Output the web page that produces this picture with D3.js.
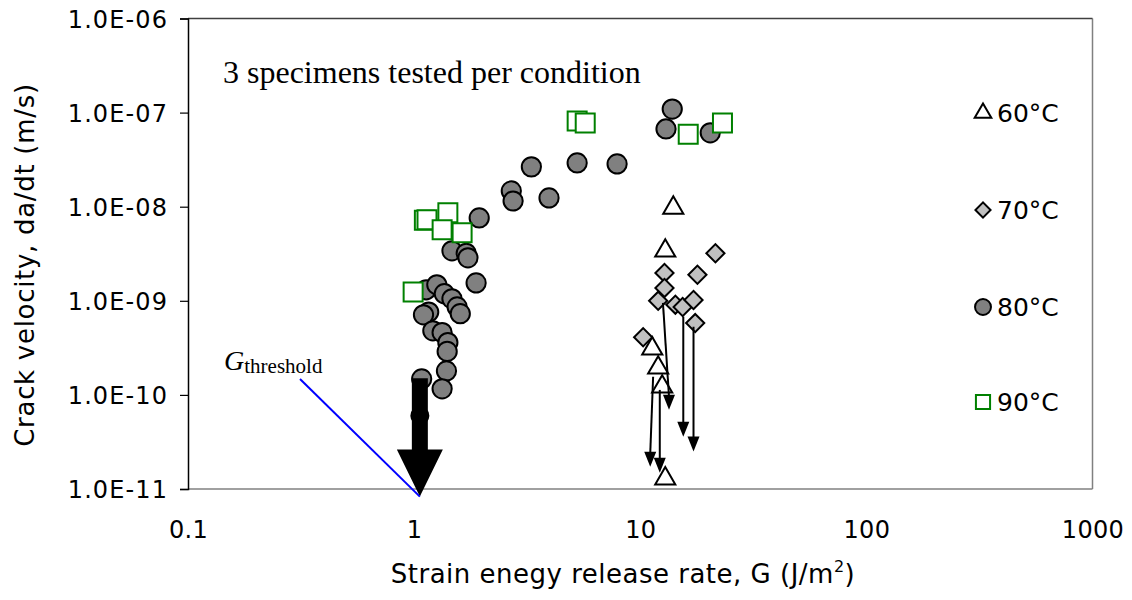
<!DOCTYPE html>
<html>
<head>
<meta charset="utf-8">
<script src="https://cdn.jsdelivr.net/npm/d3@7"></script>
<style>
  body { margin: 0; background: #fff; }
  svg text { font-family: "DejaVu Sans", Verdana, sans-serif; }
  .serif { font-family: "Liberation Serif", "Times New Roman", serif !important; }
</style>
</head>
<body>
<svg id="chart" width="1132" height="600"></svg>
<script>
// ===== data (G in J/m^2, velocity in m/s) =====
const xTicks = [0.1, 1, 10, 100, 1000];
const xTickLabels = ["0.1", "1", "10", "100", "1000"];
const yTicks = [1e-11, 1e-10, 1e-9, 1e-8, 1e-7, 1e-6];
const yTickLabels = ["1.0E-11", "1.0E-10", "1.0E-09", "1.0E-08", "1.0E-07", "1.0E-06"];

// 60°C
const g60 = [14.0, 12.9, 11.3, 12.0, 12.5, 12.9];
const v60 = [9.7e-9, 3.4e-9, 3.1e-10, 1.94e-10, 1.22e-10, 1.29e-11];
// 70°C
const g70 = [21.5, 12.8, 17.9, 12.8, 12.0, 14.3, 15.4, 17.2, 17.5, 10.3];
const v70 = [3.2e-9, 1.98e-9, 1.89e-9, 1.37e-9, 1.0e-9, 9.1e-10, 8.6e-10, 1.02e-9, 5.8e-10, 4.1e-10];
// 80°C
const g80 = [13.85, 13.0, 20.4, 3.30, 5.26, 7.9, 2.69, 2.74, 3.95, 1.94, 1.47, 1.70, 1.73, 1.88, 1.13,
  1.26, 1.36, 1.47, 1.55, 1.60, 1.16, 1.10, 1.21, 1.33, 1.41, 1.40, 1.39, 1.08, 1.33];
const v80 = [1.09e-7, 6.7e-8, 6.1e-8, 2.65e-8, 2.92e-8, 2.85e-8, 1.47e-8, 1.15e-8, 1.24e-8, 7.6e-9, 3.4e-9,
  3.2e-9, 2.86e-9, 1.55e-9, 1.31e-9, 1.48e-9, 1.19e-9, 1.05e-9, 8.6e-10, 7.3e-10, 7.6e-10, 7.1e-10,
  4.8e-10, 4.6e-10, 3.6e-10, 2.9e-10, 1.8e-10, 1.48e-10, 1.16e-10];
// 90°C
const g90 = [5.26, 5.71, 16.3, 23.1, 1.11, 1.14, 1.41, 1.33, 1.63, 0.99];
const v90 = [8.15e-8, 7.76e-8, 5.9e-8, 7.76e-8, 7.2e-9, 7.25e-9, 8.6e-9, 5.7e-9, 5.3e-9, 1.24e-9];

// run-out arrows: [G start, v start, G end, v end]
const runouts = [
  [12.6, 9.5e-10, 13.4, 6.95e-11],
  [15.5, 6.8e-10, 15.5, 3.6e-11],
  [17.2, 5.3e-10, 17.2, 2.5e-11],
  [11.4, 1.56e-10, 11.07, 1.72e-11],
  [12.2, 1.13e-10, 12.2, 1.49e-11],
];

// threshold arrow
const thresholdG = 1.06;
const thresholdTop = 1.5e-10;
const thresholdTip = 8.3e-12;
const thresholdDotV = 6.0e-11;

const legendNames = ["60°C", "70°C", "80°C", "90°C"];

// ===== layout =====
const svg = d3.select("#chart");
const plotL = 188, plotR = 1092.5, plotT = 18.5, plotB = 489;

const xScale = d3.scaleLog().domain([0.1, 1000]).range([plotL, plotR]);
const yScale = d3.scaleLog().domain([1e-11, 1e-6]).range([plotB, plotT]);

// plot frame
svg.append("line").attr("x1", plotL).attr("x2", plotR).attr("y1", plotB).attr("y2", plotB)
  .attr("stroke", "#808080").attr("stroke-width", 1.5);
svg.append("line").attr("x1", plotR).attr("x2", plotR).attr("y1", plotT).attr("y2", plotB)
  .attr("stroke", "#808080").attr("stroke-width", 1.5);
svg.append("line").attr("x1", plotL).attr("x2", plotR).attr("y1", plotT).attr("y2", plotT)
  .attr("stroke", "#404040").attr("stroke-width", 1.5);

// y axis
const yAxis = d3.axisLeft(yScale)
  .tickValues(yTicks)
  .tickSize(8)
  .tickPadding(12)
  .tickFormat((d, i) => yTickLabels[i]);
const yAxisG = svg.append("g").attr("transform", `translate(${plotL},0)`).call(yAxis);
yAxisG.select(".domain").attr("stroke", "#000").attr("stroke-width", 1.5);
yAxisG.selectAll(".tick line").attr("stroke", "#000").attr("stroke-width", 1.2);
yAxisG.selectAll("text")
  .attr("fill", "#000")
  .style("font-size", "24px")
  .style("letter-spacing", "1.1px")
  .attr("dy", "0.36em");

// x axis (labels only)
const xAxis = d3.axisBottom(xScale)
  .tickValues(xTicks)
  .tickSize(0)
  .tickFormat((d, i) => xTickLabels[i]);
const xAxisG = svg.append("g").attr("transform", `translate(0,${plotB})`).call(xAxis);
xAxisG.select(".domain").remove();
xAxisG.selectAll("text")
  .attr("fill", "#000")
  .attr("y", 49)
  .attr("dy", 0)
  .style("font-size", "24px")
  .style("letter-spacing", "0.3px");

// axis titles
svg.append("text")
  .attr("x", 623).attr("y", 583)
  .attr("text-anchor", "middle")
  .style("font-size", "26px")
  .style("letter-spacing", "0.5px")
  .html('Strain enegy release rate, G (J/m<tspan dy="-11" style="font-size:16px">2</tspan><tspan dy="11">)</tspan>');

svg.append("text")
  .attr("transform", "translate(34,265) rotate(-90)")
  .attr("text-anchor", "middle")
  .style("font-size", "26px")
  .style("letter-spacing", "0.7px")
  .text("Crack velocity, da/dt (m/s)");

// ===== markers =====
const sym = (type, size) => d3.symbol().type(type).size(size)();
const styles = [
  { path: sym(d3.symbolTriangle, 175), legend: sym(d3.symbolTriangle, 120), fill: "#fff", stroke: "#000", rot: 0 },
  { path: sym(d3.symbolSquare, 165), legend: sym(d3.symbolSquare, 115), fill: "#c0c0c0", stroke: "#000", rot: 45 },
  { path: sym(d3.symbolCircle, 290), legend: sym(d3.symbolCircle, 200), fill: "#808080", stroke: "#000", rot: 0 },
  { path: sym(d3.symbolSquare, 361), legend: sym(d3.symbolSquare, 200), fill: "#fff", stroke: "#008000", rot: 0 },
];
const series = [
  g60.map((g, i) => ({ g, v: v60[i] })),
  g70.map((g, i) => ({ g, v: v70[i] })),
  g80.map((g, i) => ({ g, v: v80[i] })),
  g90.map((g, i) => ({ g, v: v90[i] })),
];

series.forEach((pts, s) => {
  svg.append("g")
    .selectAll("path")
    .data(pts)
    .enter()
    .append("path")
    .attr("d", styles[s].path)
    .attr("transform", (d) => `translate(${xScale(d.g)},${yScale(d.v)}) rotate(${styles[s].rot})`)
    .attr("fill", styles[s].fill)
    .attr("stroke", styles[s].stroke)
    .attr("stroke-width", 2);
});

// run-out arrows
const headLen = 15, headW = 6;
const ro = svg.append("g");
runouts.forEach((r) => {
  const x1 = xScale(r[0]), y1 = yScale(r[1]), x2 = xScale(r[2]), y2 = yScale(r[3]);
  ro.append("line").attr("x1", x1).attr("y1", y1).attr("x2", x2).attr("y2", y2 - headLen + 2)
    .attr("stroke", "#000").attr("stroke-width", 2);
  ro.append("path")
    .attr("d", `M${x2},${y2} L${x2 - headW},${y2 - headLen} L${x2 + headW},${y2 - headLen} Z`)
    .attr("fill", "#000");
});

// threshold arrow
const tx = xScale(thresholdG), tTop = yScale(thresholdTop), tTip = yScale(thresholdTip);
svg.append("path")
  .attr("d", `M${tx - 8},${tTop} L${tx + 8},${tTop} L${tx + 8},${tTip - 47} L${tx + 23},${tTip - 47}
    L${tx},${tTip} L${tx - 23},${tTip - 47} L${tx - 8},${tTip - 47} Z`)
  .attr("fill", "#000");
svg.append("circle").attr("cx", tx).attr("cy", yScale(thresholdDotV)).attr("r", 9.5).attr("fill", "#000");

// G threshold label + pointer line
svg.append("line")
  .attr("x1", 300).attr("y1", 379).attr("x2", tx).attr("y2", tTip)
  .attr("stroke", "#0000ff").attr("stroke-width", 2);
svg.append("text")
  .attr("class", "serif")
  .attr("x", 224).attr("y", 370)
  .style("font-size", "28px")
  .html('<tspan font-style="italic">G</tspan><tspan dy="3" style="font-size:21px">threshold</tspan>');

// note
svg.append("text")
  .attr("class", "serif")
  .attr("x", 223).attr("y", 83)
  .style("font-size", "32px")
  .text("3 specimens tested per condition");

// legend
const legendY = [113, 210, 307, 402];
const lg = svg.append("g");
legendNames.forEach((name, i) => {
  lg.append("path")
    .attr("d", styles[i].legend)
    .attr("transform", `translate(983,${legendY[i]}) rotate(${styles[i].rot})`)
    .attr("fill", styles[i].fill)
    .attr("stroke", styles[i].stroke)
    .attr("stroke-width", 2);
  lg.append("text")
    .attr("x", 997).attr("y", legendY[i])
    .attr("dy", "0.36em")
    .style("font-size", "25px")
    .text(name);
});
</script>
</body>
</html>
